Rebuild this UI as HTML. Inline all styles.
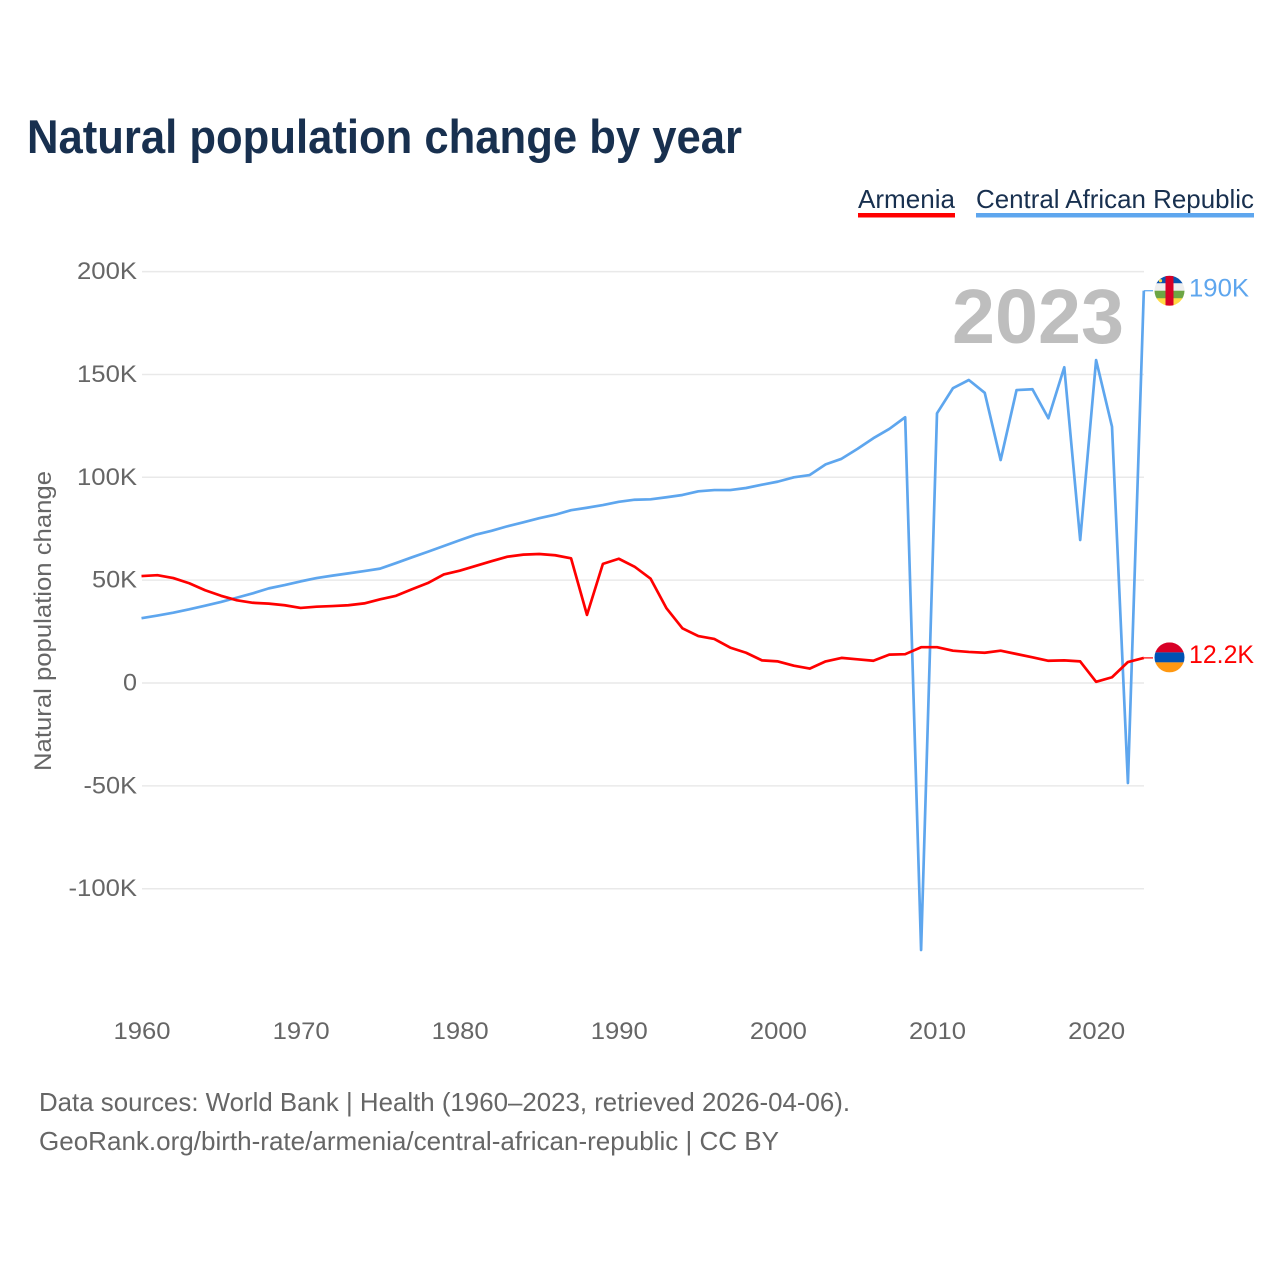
<!DOCTYPE html>
<html lang="en">
<head>
<meta charset="utf-8">
<title>Natural population change by year</title>
<style>
html,body{margin:0;padding:0;background:#fff;}
svg{display:block;font-family:"Liberation Sans",sans-serif;}
</style>
</head>
<body>
<svg id="chart" width="1280" height="1280" viewBox="0 0 1280 1280" xmlns="http://www.w3.org/2000/svg">
  <defs>
    <clipPath id="flag-clip-car"><circle cx="0" cy="0" r="15"></circle></clipPath>
    <clipPath id="flag-clip-arm"><circle cx="0" cy="0" r="15"></circle></clipPath>
  </defs>
  <rect x="0" y="0" width="1280" height="1280" fill="#ffffff"></rect>

  <text x="27" y="153" font-size="47" font-weight="700" fill="#18304f" textLength="715" lengthAdjust="spacingAndGlyphs">Natural population change by year</text>

  <g>
    <g>
      <text x="858" y="208" font-size="26" fill="#18304f" textLength="97" lengthAdjust="spacingAndGlyphs">Armenia</text>
      <rect x="858" y="213" width="97" height="4.5" fill="#ff0000"></rect>
    </g>
    <g>
      <text x="976" y="208" font-size="26" fill="#18304f" textLength="278" lengthAdjust="spacingAndGlyphs">Central African Republic</text>
      <rect x="976" y="213" width="278" height="4.5" fill="#5ea6ee"></rect>
    </g>
  </g>

  <g id="grid"></g>
  <g id="yticks"></g>
  <g id="xticks"></g>

  <text transform="translate(51 621) rotate(-90)" text-anchor="middle" font-size="24" fill="#666666" textLength="300" lengthAdjust="spacingAndGlyphs">Natural population change</text>

  <text x="952" y="343" font-size="77" font-weight="700" fill="#bebebe" textLength="172" lengthAdjust="spacingAndGlyphs">2023</text>

  <g id="series"></g>

  <g id="flag-car">
    <g clip-path="url(#flag-clip-car)">
      <rect x="-15" y="-15" width="30" height="8" fill="#0a55b0"></rect>
      <rect x="-15" y="-7.5" width="30" height="8" fill="#eeeeee"></rect>
      <rect x="-15" y="0" width="30" height="8" fill="#6da544"></rect>
      <rect x="-15" y="7.5" width="30" height="8" fill="#ffda44"></rect>
      <rect x="-4" y="-15" width="8" height="30" fill="#d80027"></rect>
      <circle cx="-9" cy="-10" r="1.6" fill="#ffda44"></circle>
    </g>
  </g>
  <g id="flag-arm">
    <g clip-path="url(#flag-clip-arm)">
      <rect x="-15" y="-15" width="30" height="10" fill="#d80027"></rect>
      <rect x="-15" y="-5" width="30" height="10" fill="#0052b4"></rect>
      <rect x="-15" y="5" width="30" height="10" fill="#ff9811"></rect>
    </g>
  </g>
  <text id="value-car" x="1189" font-size="25" fill="#5ea6ee" textLength="60" lengthAdjust="spacingAndGlyphs"></text>
  <text id="value-arm" x="1189" font-size="25" fill="#ff0000" textLength="65" lengthAdjust="spacingAndGlyphs"></text>

  <text x="39" y="1111" font-size="26" fill="#666666" textLength="811" lengthAdjust="spacingAndGlyphs">Data sources: World Bank | Health (1960–2023, retrieved 2026-04-06).</text>
  <text x="39" y="1150" font-size="26" fill="#666666" textLength="740" lengthAdjust="spacingAndGlyphs">GeoRank.org/birth-rate/armenia/central-african-republic | CC BY</text>
</svg>

<script>
const firstYear = 1960;
const armenia = [
  52.0,52.4,51.0,48.5,45.1,42.4,40.2,39.0,38.6,37.8,
  36.5,37.1,37.4,37.8,38.7,40.7,42.4,45.6,48.6,52.8,
  54.6,56.9,59.2,61.4,62.4,62.7,62.1,60.6,33.1,57.9,
  60.4,56.5,50.7,36.3,26.6,22.8,21.4,17.2,14.7,11.0,
  10.5,8.4,7.0,10.5,12.2,11.5,10.8,13.8,14.0,17.4,
  17.4,15.7,15.1,14.7,15.7,14.1,12.5,10.8,11.0,10.5,
  0.6,2.8,10.2,12.2
];
const centralAfricanRepublic = [
  31.5,32.8,34.2,35.8,37.6,39.4,41.5,43.6,46.0,47.6,
  49.4,51.0,52.2,53.3,54.4,55.6,58.3,61.1,63.8,66.6,
  69.4,72.1,74.0,76.2,78.1,80.1,81.8,84.0,85.2,86.5,
  88.1,89.1,89.3,90.3,91.4,93.2,93.8,93.8,94.8,96.4,
  97.9,100.0,101.1,106.3,109.0,113.8,119.0,123.5,129.2,-129.8,
  131.1,143.3,147.3,141.1,108.4,142.4,142.8,128.7,153.5,69.5,
  157.0,124.6,-48.6,190.7
];
const yTickValues = [200,150,100,50,0,-50,-100];
const yTickLabels = ["200K","150K","100K","50K","0","-50K","-100K"];
const xTickYears = [1960,1970,1980,1990,2000,2010,2020];
const endLabelArmenia = "12.2K";
const endLabelCar = "190K";

const NS = "http://www.w3.org/2000/svg";
function xScale(year){ return 141.5 + (year - 1960) * 15.91; }
function yScale(v){ return 683 - v * 2.057; }
function make(tag, attrs, parent){
  const el = document.createElementNS(NS, tag);
  for (const k in attrs) el.setAttribute(k, attrs[k]);
  parent.appendChild(el);
  return el;
}

const gridG = document.getElementById("grid");
const yG = document.getElementById("yticks");
const xG = document.getElementById("xticks");
const seriesG = document.getElementById("series");

yTickValues.forEach(function(v, i){
  const line = make("line", {x1:142, x2:1144, y1:yScale(v), y2:yScale(v), stroke:"#e9e9e9", "stroke-width":1.5}, gridG);
  
  
  const label = yTickLabels[i];
  const t = make("text", {x:137, y:yScale(v) + 7.5, "text-anchor":"end", "font-size":24, fill:"#666666"}, yG);
  
  
  t.textContent = label;
  const w = label.length === 1 ? 14 : (label.charAt(0) === "-" ? 8.5 : 0) + (label.replace("-","").length === 4 ? 60 : 45);
  t.setAttribute("textLength", w);
  t.setAttribute("lengthAdjust", "spacingAndGlyphs");
});

xTickYears.forEach(function(y){
  const t = make("text", {x:xScale(y) + 0.5, y:1039, "text-anchor":"middle", "font-size":24, fill:"#666666", textLength:57, lengthAdjust:"spacingAndGlyphs"}, xG);
  
  
  t.textContent = String(y);
});

function pathFor(values){
  return values.map(function(v, i){
    return (i ? "L" : "M") + xScale(firstYear + i).toFixed(2) + " " + yScale(v).toFixed(2);
  }).join(" ");
}
function endConnector(values){
  const i = values.length - 1;
  const y = yScale(values[i]);
  return "M" + xScale(firstYear + i).toFixed(2) + " " + y.toFixed(2) + " L1153 " + y.toFixed(2);
}

const carLine = make("path", {d:pathFor(centralAfricanRepublic), fill:"none", stroke:"#5ea6ee", "stroke-width":2.7, "stroke-linejoin":"round"}, seriesG);


const armLine = make("path", {d:pathFor(armenia), fill:"none", stroke:"#ff0000", "stroke-width":2.7, "stroke-linejoin":"round"}, seriesG);


const carConn = make("path", {d:endConnector(centralAfricanRepublic), fill:"none", stroke:"#5ea6ee", "stroke-width":1.2}, seriesG);


const armConn = make("path", {d:endConnector(armenia), fill:"none", stroke:"#ff0000", "stroke-width":1.2}, seriesG);



const carEndY = yScale(centralAfricanRepublic[centralAfricanRepublic.length - 1]);
const armEndY = yScale(armenia[armenia.length - 1]);
document.getElementById("flag-car").setAttribute("transform", "translate(1169.5 " + carEndY.toFixed(2) + ")");
document.getElementById("flag-arm").setAttribute("transform", "translate(1169.5 " + (armEndY - 0.5).toFixed(2) + ")");
const vCar = document.getElementById("value-car");
vCar.setAttribute("y", (carEndY + 6).toFixed(2));
vCar.textContent = endLabelCar;
const vArm = document.getElementById("value-arm");
vArm.setAttribute("y", (armEndY + 5).toFixed(2));
vArm.textContent = endLabelArmenia;
</script>
</body>
</html>
